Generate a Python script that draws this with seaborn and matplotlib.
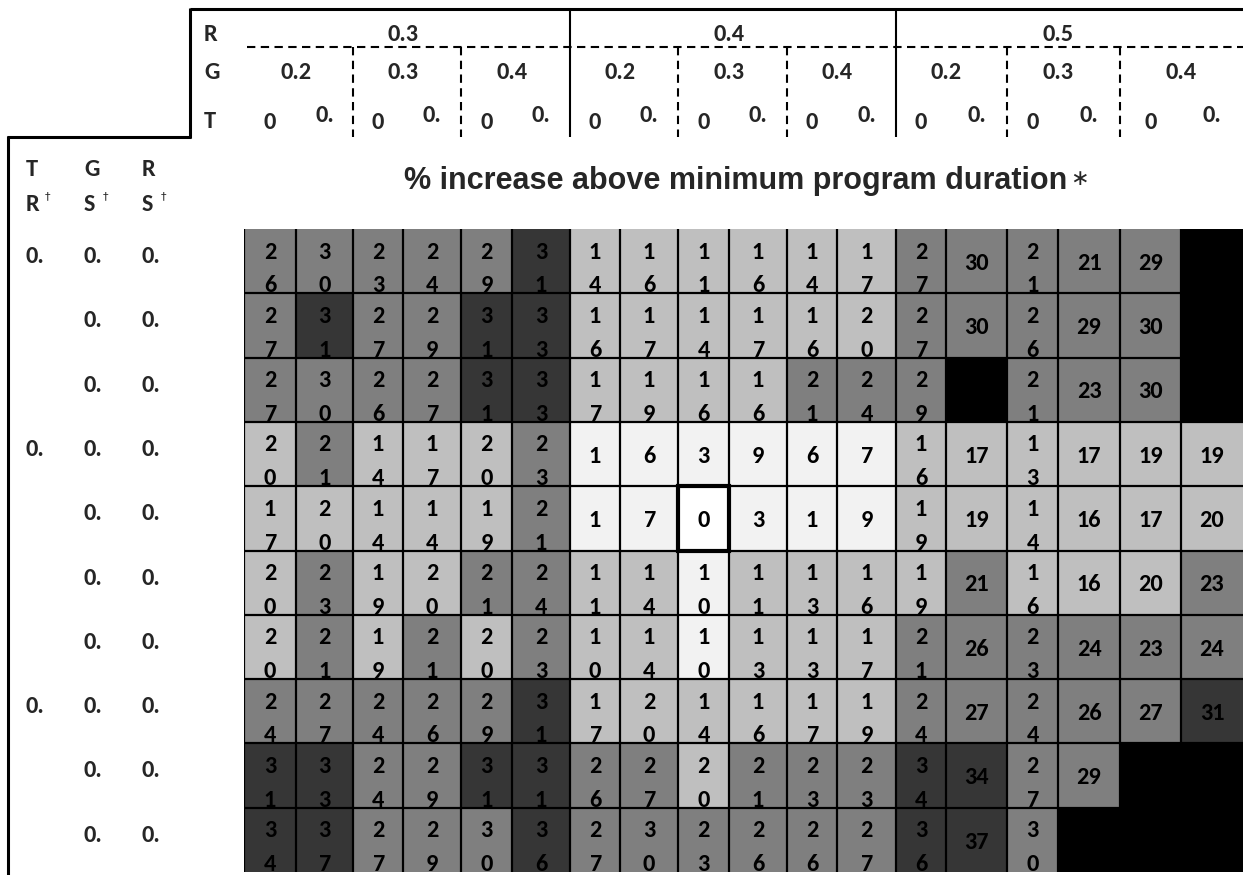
import numpy as np
import pandas as pd
import matplotlib
matplotlib.use("Agg")
import matplotlib.pyplot as plt
import seaborn as sns
from matplotlib.colors import ListedColormap
from matplotlib.patches import Rectangle
from matplotlib.lines import Line2D
import matplotlib.transforms as mtransforms
from matplotlib import font_manager as fm

# ---------------- data ----------------
r_values = ["0.3", "0.4", "0.5"]
g_values = ["0.2", "0.3", "0.4"]
t_values = ["0", "0."]
row_header = [("T", "R"), ("G", "S"), ("R", "S")]
tr_labels = ["0.", "", "", "0.", "", "", "", "0.", "", ""]
gs_labels = ["0."] * 10
rs_labels = ["0."] * 10
title_text = "% increase above minimum program duration"

N = None
row1 = [26, 30, 23, 24, 29, 31, 14, 16, 11, 16, 14, 17, 27, 30, 21, 21, 29, N]
row2 = [27, 31, 27, 29, 31, 33, 16, 17, 14, 17, 16, 20, 27, 30, 26, 29, 30, N]
row3 = [27, 30, 26, 27, 31, 33, 17, 19, 16, 16, 21, 24, 29, N, 21, 23, 30, N]
row4 = [20, 21, 14, 17, 20, 23, 1, 6, 3, 9, 6, 7, 16, 17, 13, 17, 19, 19]
row5 = [17, 20, 14, 14, 19, 21, 1, 7, 0, 3, 1, 9, 19, 19, 14, 16, 17, 20]
row6 = [20, 23, 19, 20, 21, 24, 11, 14, 10, 11, 13, 16, 19, 21, 16, 16, 20, 23]
row7 = [20, 21, 19, 21, 20, 23, 10, 14, 10, 13, 13, 17, 21, 26, 23, 24, 23, 24]
row8 = [24, 27, 24, 26, 29, 31, 17, 20, 14, 16, 17, 19, 24, 27, 24, 26, 27, 31]
row9 = [31, 33, 24, 29, 31, 31, 26, 27, 20, 21, 23, 23, 34, 34, 27, 29, N, N]
row10 = [34, 37, 27, 29, 30, 36, 27, 30, 23, 26, 26, 27, 36, 37, 30, N, N, N]
values = [row1, row2, row3, row4, row5, row6, row7, row8, row9, row10]

# shade tier of each cell as seen in the picture
# 0 white, 1 very light, 2 light, 3 mid, 4 dark, 5 black (no value)
shade1 = [3, 3, 3, 3, 3, 4, 2, 2, 2, 2, 2, 2, 3, 3, 3, 3, 3, 5]
shade2 = [3, 4, 3, 3, 4, 4, 2, 2, 2, 2, 2, 2, 3, 3, 3, 3, 3, 5]
shade3 = [3, 3, 3, 3, 4, 4, 2, 2, 2, 2, 3, 3, 3, 5, 3, 3, 3, 5]
shade4 = [2, 3, 2, 2, 2, 3, 1, 1, 1, 1, 1, 1, 2, 2, 2, 2, 2, 2]
shade5 = [2, 2, 2, 2, 2, 3, 1, 1, 0, 1, 1, 1, 2, 2, 2, 2, 2, 2]
shade6 = [2, 3, 2, 2, 3, 3, 2, 2, 1, 2, 2, 2, 2, 3, 2, 2, 2, 3]
shade7 = [2, 3, 2, 3, 2, 3, 2, 2, 1, 2, 2, 2, 3, 3, 3, 3, 3, 3]
shade8 = [3, 3, 3, 3, 3, 4, 2, 2, 2, 2, 2, 2, 3, 3, 3, 3, 3, 4]
shade9 = [4, 4, 3, 3, 4, 4, 3, 3, 2, 3, 3, 3, 4, 4, 3, 3, 5, 5]
shade10 = [4, 4, 3, 3, 3, 4, 3, 3, 3, 3, 3, 3, 4, 4, 3, 5, 5, 5]
shades = [shade1, shade2, shade3, shade4, shade5, shade6, shade7, shade8, shade9, shade10]

# ---------------- layout / style ----------------
W, H = 1243, 875
def fx(px):
    return px / W
def fy(py):
    return 1 - py / H

edges_px = np.array([244, 296, 353, 403, 461, 512, 570, 620, 678, 729, 787,
                     837, 896, 946, 1007, 1058, 1120, 1181, 1243], dtype=float)
col_idx = np.arange(len(edges_px), dtype=float)
widths_px = np.diff(edges_px)

shade_colors = ["#ffffff", "#f2f2f2", "#bfbfbf", "#7f7f7f", "#363636", "#000000"]
cmap = ListedColormap(shade_colors)


def pick_bold(cands):
    for c in cands:
        try:
            p = fm.findfont(fm.FontProperties(family=c, weight="bold"),
                            fallback_to_default=False)
            name = p.lower()
            if "bold" in name or "heavy" in name or "black" in name:
                return c
        except Exception:
            pass
    return "DejaVu Sans"


FONT = pick_bold(["Carlito", "Open Sans", "Noto Sans", "Roboto", "Lato",
                  "Liberation Sans"])
FS = 17.5

sns.set_theme(style="white")
plt.rcParams["font.family"] = [FONT, "DejaVu Sans"]

fig = plt.figure(figsize=(W / 100, H / 100), dpi=100)
fig.patch.set_facecolor("white")

top_px, bot_px = 229, 872
ax = fig.add_axes([fx(244), fy(bot_px), fx(1243) - fx(244), fy(top_px) - fy(bot_px)])

df = pd.DataFrame(shades)
sns.heatmap(df, ax=ax, cmap=cmap, vmin=-0.5, vmax=5.5, cbar=False,
            xticklabels=False, yticklabels=False, linewidths=0)

ax.set_xscale("function", functions=(lambda x: np.interp(x, col_idx, edges_px),
                                     lambda p: np.interp(p, edges_px, col_idx)))
ax.set_xlim(0, 18)
ax.set_ylim(10, 0)
for s in ax.spines.values():
    s.set_visible(False)
ax.set_xticks([])
ax.set_yticks([])

nrows, ncols = len(values), len(values[0])

# grid lines
ax.vlines(np.arange(0, ncols), 0, nrows, colors="black", lw=1.6, zorder=3)
ax.hlines(np.arange(1, nrows), 0, ncols, colors="black", lw=1.6, zorder=3)

# cell numbers
for j in range(nrows):
    for i in range(ncols):
        v = values[j][i]
        if v is None:
            continue
        s = str(v)
        clip = Rectangle((i, j), 1, 1, transform=ax.transData)
        if len(s) == 2 and widths_px[i] < 60:
            for k, yy in enumerate((0.46, 0.985)):
                t = ax.text(i + 0.5, j + yy, s[k], ha="center", va="baseline",
                            fontsize=FS, fontweight="bold", color="black", zorder=4)
                t.set_clip_path(clip)
        else:
            ax.text(i + 0.5, j + 0.635, s, ha="center", va="baseline",
                    fontsize=FS, fontweight="bold", color="black", zorder=4)

# thick border around the minimum cell
vals_arr = np.array([[np.nan if v is None else v for v in r] for r in values], dtype=float)
mj, mi = np.unravel_index(np.nanargmin(vals_arr), vals_arr.shape)
ax.add_patch(Rectangle((mi, mj), 1, 1, fill=False, ec="black", lw=3, zorder=5))

# ---------------- header ----------------
hdr = mtransforms.blended_transform_factory(ax.transData, fig.transFigure)
figt = fig.transFigure

def fig_line(x0, y0, x1, y1, lw=2.2, ls="-"):
    fig.add_artist(Line2D([fx(x0), fx(x1)], [fy(y0), fy(y1)], transform=figt,
                          color="black", lw=lw, linestyle=ls, solid_capstyle="butt"))

def hdr_line(xd0, y0, xd1, y1, lw=1.5, ls="-"):
    fig.add_artist(Line2D([xd0, xd1], [fy(y0), fy(y1)], transform=hdr,
                          color="black", lw=lw, linestyle=ls, solid_capstyle="butt"))

# frame lines
fig_line(190, 9, 1243, 9)
fig_line(190, 8, 190, 138)
fig_line(7, 137, 191, 137)
fig_line(8, 136, 8, 875)

# header row labels
for lab, yb in zip(["R", "G", "T"], [41, 79, 128]):
    fig.text(fx(204), fy(yb), lab, ha="left", va="baseline", fontsize=FS,
             fontweight="bold")

dash = (0, (4, 2.6))
ng = len(g_values) * len(t_values)
for a, rv in enumerate(r_values):
    x0 = a * ng
    fig.text(x0 + ng / 2, fy(41), rv, transform=hdr, ha="center", va="baseline",
             fontsize=FS, fontweight="bold")
    for b, gv in enumerate(g_values):
        gx = x0 + b * len(t_values)
        fig.text(gx + len(t_values) / 2, fy(79), gv, transform=hdr, ha="center",
                 va="baseline", fontsize=FS, fontweight="bold")
        for c, tv in enumerate(t_values):
            yb = 129 if tv == "0" else 122
            fig.text(gx + c + 0.5, fy(yb), tv, transform=hdr, ha="center",
                     va="baseline", fontsize=FS, fontweight="bold")
        if b > 0:
            hdr_line(gx, 47, gx, 137, lw=1.5, ls=dash)
    if a > 0:
        hdr_line(x0, 10, x0, 137, lw=1.5)

hdr_line(0.06, 47, 18, 47, lw=1.5, ls=dash)

# left row-label header
for (big, small), xl in zip(row_header, [26, 84, 142]):
    fig.text(fx(xl), fy(176), big, ha="left", va="baseline", fontsize=FS,
             fontweight="bold")
    fig.text(fx(xl), fy(211), small, ha="left", va="baseline", fontsize=FS,
             fontweight="bold")
    fig.text(fx(xl + 19), fy(199), "\u2020", ha="left", va="baseline", fontsize=8,
             family="DejaVu Sans")

rowt = mtransforms.blended_transform_factory(figt, ax.transData)
for j in range(nrows):
    for lab, xl in zip([tr_labels[j], gs_labels[j], rs_labels[j]], [26, 84, 142]):
        if lab:
            fig.text(fx(xl), j + 0.53, lab, transform=rowt, ha="left",
                     va="baseline", fontsize=FS, fontweight="bold")

# title
cx = (fx(244) + fx(1243)) / 2 - fx(8)
tt = fig.text(cx, fy(189), title_text, ha="center", va="baseline",
              fontsize=22, fontweight="bold", family="Liberation Sans")
fig.canvas.draw()
bb = tt.get_window_extent()
fig.text(bb.x1 / W + fx(3), fy(185), "\u2217", ha="left", va="baseline",
         fontsize=16, family="DejaVu Sans")

fig.savefig("out.png", dpi=100, facecolor="white")
